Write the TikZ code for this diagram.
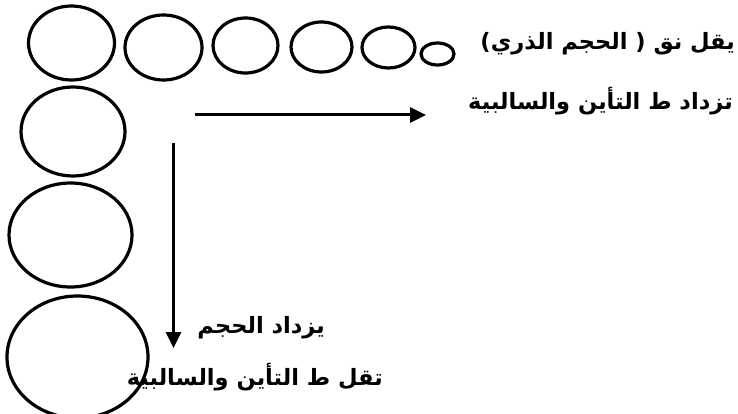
\documentclass[tikz,border=0pt]{standalone}
\usepackage{fontspec}
\usetikzlibrary{shapes.geometric,arrows.meta}
\newfontfamily\arabicfont[Script=Arabic]{DejaVu Sans}
\TeXXeTstate=1
\tikzset{
  atom/.style={ellipse, draw=black, line width=3.2pt, inner sep=0pt},
  lbl/.style={inner sep=0pt, font=\arabicfont\bfseries\fontsize{22.5}{26}\selectfont},
  arr/.style={line width=3pt, -{Triangle[length=16pt,width=15pt]}}
}
\begin{document}
\begin{tikzpicture}[x=1pt,y=-1pt]
\useasboundingbox (0,0) rectangle (738,414);
% top row
\node[atom, minimum width=86pt, minimum height=74pt] (t1) at (71.5,43) {};
\node[atom, minimum width=77pt, minimum height=65pt] (t2) at (163.5,47.5) {};
\node[atom, minimum width=65pt, minimum height=55pt] (t3) at (245.5,45.5) {};
\node[atom, minimum width=61pt, minimum height=50pt] (t4) at (321.5,47) {};
\node[atom, minimum width=53pt, minimum height=41pt] (t5) at (388.5,47.5) {};
\node[atom, minimum width=33pt, minimum height=22pt] (t6) at (437.5,54) {};
% left column
\node[atom, minimum width=104pt, minimum height=89pt] (l1) at (73,131.5) {};
\node[atom, minimum width=123pt, minimum height=104pt] (l2) at (70.5,235) {};
\node[atom, minimum width=141pt, minimum height=122pt] (l3) at (77.5,357) {};
% arrows
\coordinate (h1) at (195,115);
\coordinate (h2) at (426,115);
\coordinate (v1) at (173.5,143);
\coordinate (v2) at (173.5,348);
\draw[arr] (h1) -- (h2);
\draw[arr] (v1) -- (v2);
% labels
\node[lbl, anchor=east] (a) at (735,44) {\beginR يقل نق ( الحجم الذري)\endR};
\node[lbl, anchor=east] (b) at (733,101) {\beginR تزداد ط التأين والسالبية\endR};
\node[lbl, anchor=east] (c) at (325,328) {\beginR يزداد الحجم\endR};
\node[lbl, anchor=east] (d) at (383,377) {\beginR تقل ط التأين والسالبية\endR};
\end{tikzpicture}
\end{document}
